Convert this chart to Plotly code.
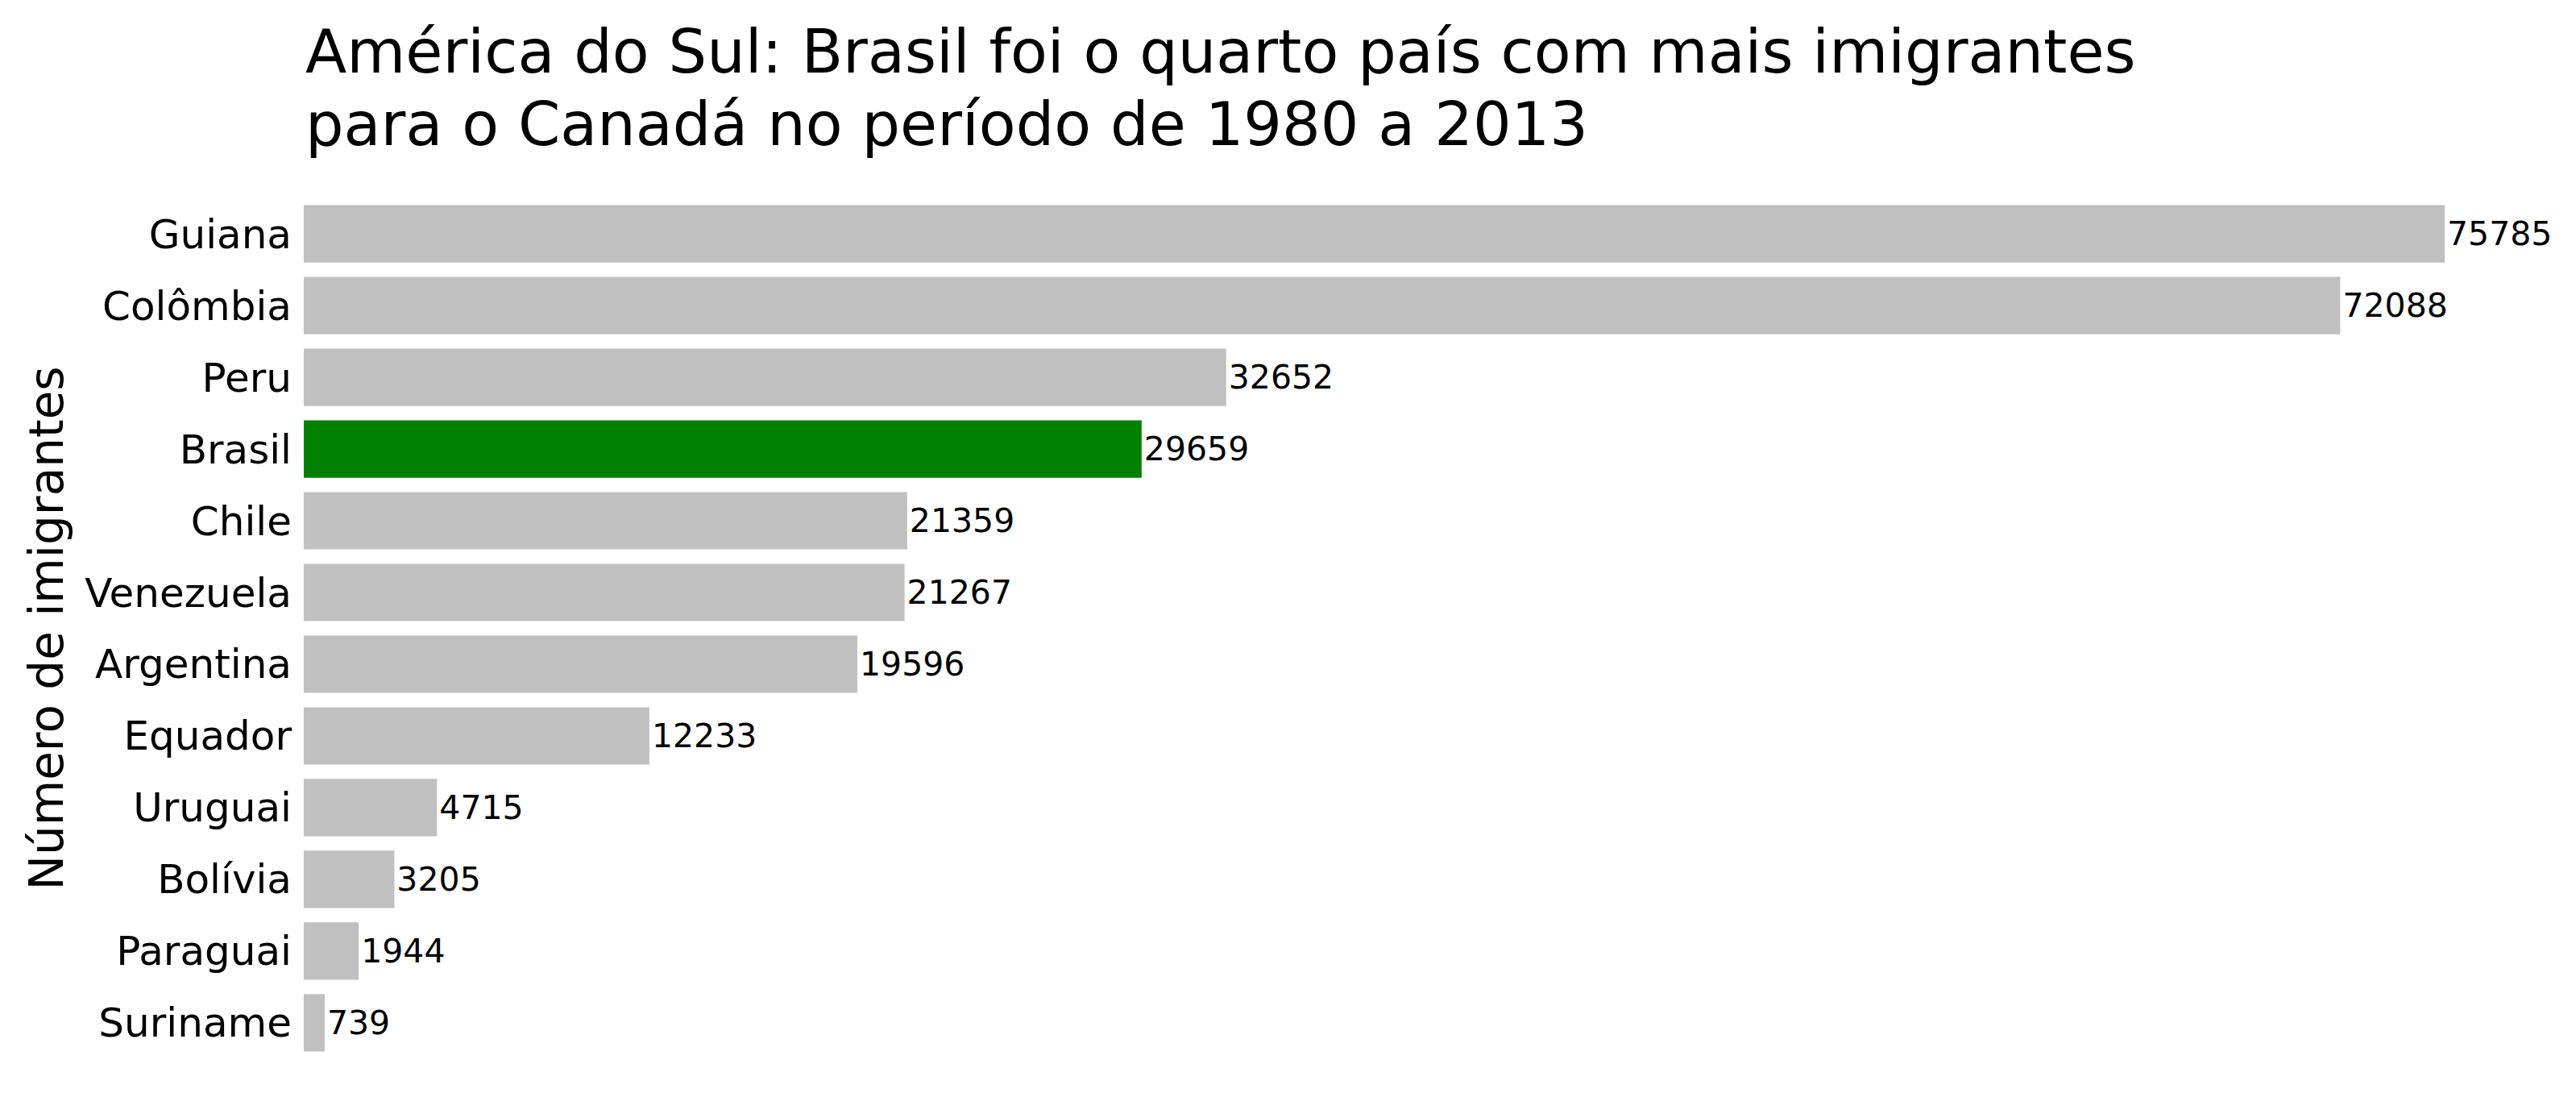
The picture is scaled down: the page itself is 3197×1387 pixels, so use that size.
import plotly.graph_objects as go

paises = ["Guiana", "Colômbia", "Peru", "Brasil", "Chile", "Venezuela",
          "Argentina", "Equador", "Uruguai", "Bolívia", "Paraguai", "Suriname"]
imigrantes = [75785, 72088, 32652, 29659, 21359, 21267, 19596, 12233, 4715, 3205, 1944, 739]
destaque = "Brasil"
titulo = ["América do Sul: Brasil foi o quarto país com mais imigrantes",
          "para o Canadá no período de 1980 a 2013"]

cores = ["#008000" if p == destaque else "#c0c0c0" for p in paises]

OFF = 8  # page body margin
W, H = 3197 - 2 * OFF, 1387 - 2 * OFF
L = 377 - OFF
T = 202 - OFF
R = W - (3034 - OFF)
B = H - (1357 - OFF)
PW = W - L - R
PH = H - T - B


def py(page_y):
    # page y pixel -> paper fraction
    return 1 - ((page_y - OFF) - T) / PH


def px(page_x):
    return ((page_x - OFF) - L) / PW


fig = go.Figure(go.Bar(
    x=imigrantes, y=paises, orientation="h",
    marker=dict(color=cores, line=dict(width=0)),
    width=0.8,
    text=[str(v) for v in imigrantes],
    textposition="outside",
    textfont=dict(family="DejaVu Sans", size=41, color="black"),
    cliponaxis=False,
    constraintext="none",
    hoverinfo="skip",
))

anns = [dict(
    text="Número de imigrantes",
    xref="paper", yref="paper",
    x=px(57), y=0.5,
    xanchor="center", yanchor="middle",
    textangle=-90, showarrow=False,
    font=dict(family="DejaVu Sans", size=58, color="black"),
)]
for linha, yc in zip(titulo, [64, 154]):
    anns.append(dict(
        text=linha, xref="paper", yref="paper",
        x=0, y=py(yc), xanchor="left", yanchor="middle",
        showarrow=False,
        font=dict(family="DejaVu Sans", size=75, color="black"),
    ))

fig.update_layout(
    width=W, height=H,
    margin=dict(l=L, r=R, t=T, b=B),
    paper_bgcolor="white", plot_bgcolor="white",
    font=dict(family="DejaVu Sans", color="black"),
    showlegend=False,
    xaxis=dict(range=[0, imigrantes[0]], visible=False, showgrid=False, zeroline=False),
    yaxis=dict(
        type="category",
        range=[len(paises) - 1 + 0.99, -0.99],
        showgrid=False, zeroline=False, showline=False, ticks="",
        tickfont=dict(family="DejaVu Sans", size=50, color="black"),
        ticklabelstandoff=14,
    ),
    annotations=anns,
)

fig.write_html("out.html")
